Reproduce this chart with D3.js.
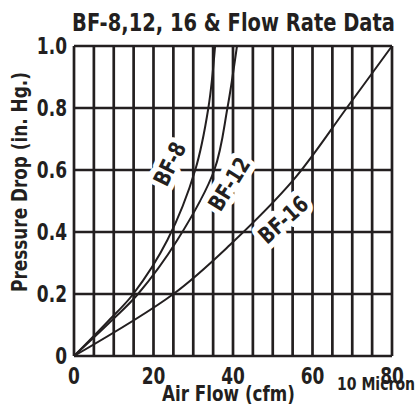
<!DOCTYPE html>
<html>
<head>
<meta charset="utf-8">
<script src="https://cdn.jsdelivr.net/npm/d3@7"></script>
<style>
  html, body { margin: 0; padding: 0; background: #fff; }
  svg { display: block; }
  text { font-family: "DejaVu Sans", sans-serif; font-weight: bold; fill: #231f20; }
</style>
</head>
<body>
<svg id="chart" width="417" height="408"></svg>
<script>
// Flow rate (cfm) vs pressure drop (in. Hg.) for each filter element
const bf8Flow  = [0, 8.4, 14.9, 23.5, 30.5, 33.8, 35.5];
const bf8Drop  = [0, 0.11, 0.2, 0.374, 0.6, 0.8, 1.0];
const bf12Flow = [0, 9.6, 16.1, 26, 35.3, 38.6, 41];
const bf12Drop = [0, 0.116, 0.2, 0.374, 0.6, 0.8, 1.0];
const bf16Flow = [0, 25, 39.2, 55.2, 68.6, 80];
const bf16Drop = [0, 0.2, 0.358, 0.568, 0.8, 1.0];

const seriesNames = ["BF-8", "BF-12", "BF-16"];
const xTicks = [0, 20, 40, 60, 80];
const yTicks = [0, 0.2, 0.4, 0.6, 0.8, 1.0];
const xGrid = d3.range(0, 81, 5);

const svg = d3.select("#chart");
const x = d3.scaleLinear().domain([0, 80]).range([74, 392]);
const y = d3.scaleLinear().domain([0, 1]).range([356, 46]);

// place a text at (px, py), rotated, then squeezed horizontally
// either by a fixed factor (sx) or to a target length (width)
function placeText(sel, px, py, rot, opt) {
  const base = `translate(${px},${py}) rotate(${rot})`;
  sel.attr("transform", base);
  let s = opt.sx || 1;
  if (opt.width) s = opt.width / sel.node().getComputedTextLength();
  sel.attr("transform", `${base} scale(${s},1)`);
  return sel;
}

// grid
const grid = svg.append("g").attr("stroke", "#231f20").attr("stroke-width", 2.7);
grid.selectAll("line.v").data(xGrid).join("line")
  .attr("x1", d => x(d)).attr("x2", d => x(d))
  .attr("y1", y(0)).attr("y2", y(1));
grid.selectAll("line.h").data(yTicks).join("line")
  .attr("x1", x(0)).attr("x2", x(80))
  .attr("y1", d => y(d)).attr("y2", d => y(d));

// series curves
const series = [
  { name: seriesNames[0], pts: bf8Flow.map((f, i) => [f, bf8Drop[i]]) },
  { name: seriesNames[1], pts: bf12Flow.map((f, i) => [f, bf12Drop[i]]) },
  { name: seriesNames[2], pts: bf16Flow.map((f, i) => [f, bf16Drop[i]]) }
];
const line = d3.line().x(d => x(d[0])).y(d => y(d[1])).curve(d3.curveCatmullRom.alpha(0.5));
svg.append("g").selectAll("path").data(series).join("path")
  .attr("d", d => line(d.pts))
  .attr("fill", "none").attr("stroke", "#231f20").attr("stroke-width", 2);

// curve labels: a white halo copy underneath, then the label itself
const labelSpots = [
  { at: [24, 0.62], rot: -64 },
  { at: [39, 0.555], rot: -58 },
  { at: [52.6, 0.44], rot: -42 }
];
["halo", "ink"].forEach(layer => {
  svg.append("g").selectAll("text").data(series).join("text")
    .attr("text-anchor", "middle").attr("dy", "0.36em")
    .attr("font-size", 22.5)
    .attr("fill", layer === "halo" ? "#fff" : "#231f20")
    .attr("stroke", layer === "halo" ? "#fff" : "none")
    .attr("stroke-width", 12).attr("stroke-linejoin", "round")
    .text(d => d.name)
    .each(function (d, i) {
      const s = labelSpots[i];
      placeText(d3.select(this), x(s.at[0]), y(s.at[1]), s.rot, { sx: 0.8 });
    });
});

// tick labels
const fmtY = d => d === 0 ? "0" : d3.format(".1f")(d);
svg.append("g").selectAll("text").data(yTicks).join("text")
  .attr("text-anchor", "end").attr("font-size", 23)
  .text(fmtY)
  .each(function (d) { placeText(d3.select(this), 67, y(d) + 8.3, 0, { sx: 0.74 }); });
svg.append("g").selectAll("text").data(xTicks).join("text")
  .attr("text-anchor", "middle").attr("font-size", 23)
  .text(d => d)
  .each(function (d) { placeText(d3.select(this), x(d), 383.5, 0, { sx: 0.74 }); });

// titles
placeText(svg.append("text").attr("text-anchor", "middle").attr("font-size", 25.5)
  .text("BF-8,12, 16 & Flow Rate Data"), 233.5, 31, 0, { width: 323 });
placeText(svg.append("text").attr("text-anchor", "middle").attr("font-size", 21)
  .text("Air Flow (cfm)"), 228.5, 401, 0, { width: 133 });
placeText(svg.append("text").attr("text-anchor", "middle").attr("font-size", 18)
  .text("10 Micron"), 376, 390, 0, { width: 78 });
placeText(svg.append("text").attr("text-anchor", "middle").attr("font-size", 22)
  .text("Pressure Drop (in. Hg.)"), 27, 182, -90, { width: 220 });
</script>
</body>
</html>
